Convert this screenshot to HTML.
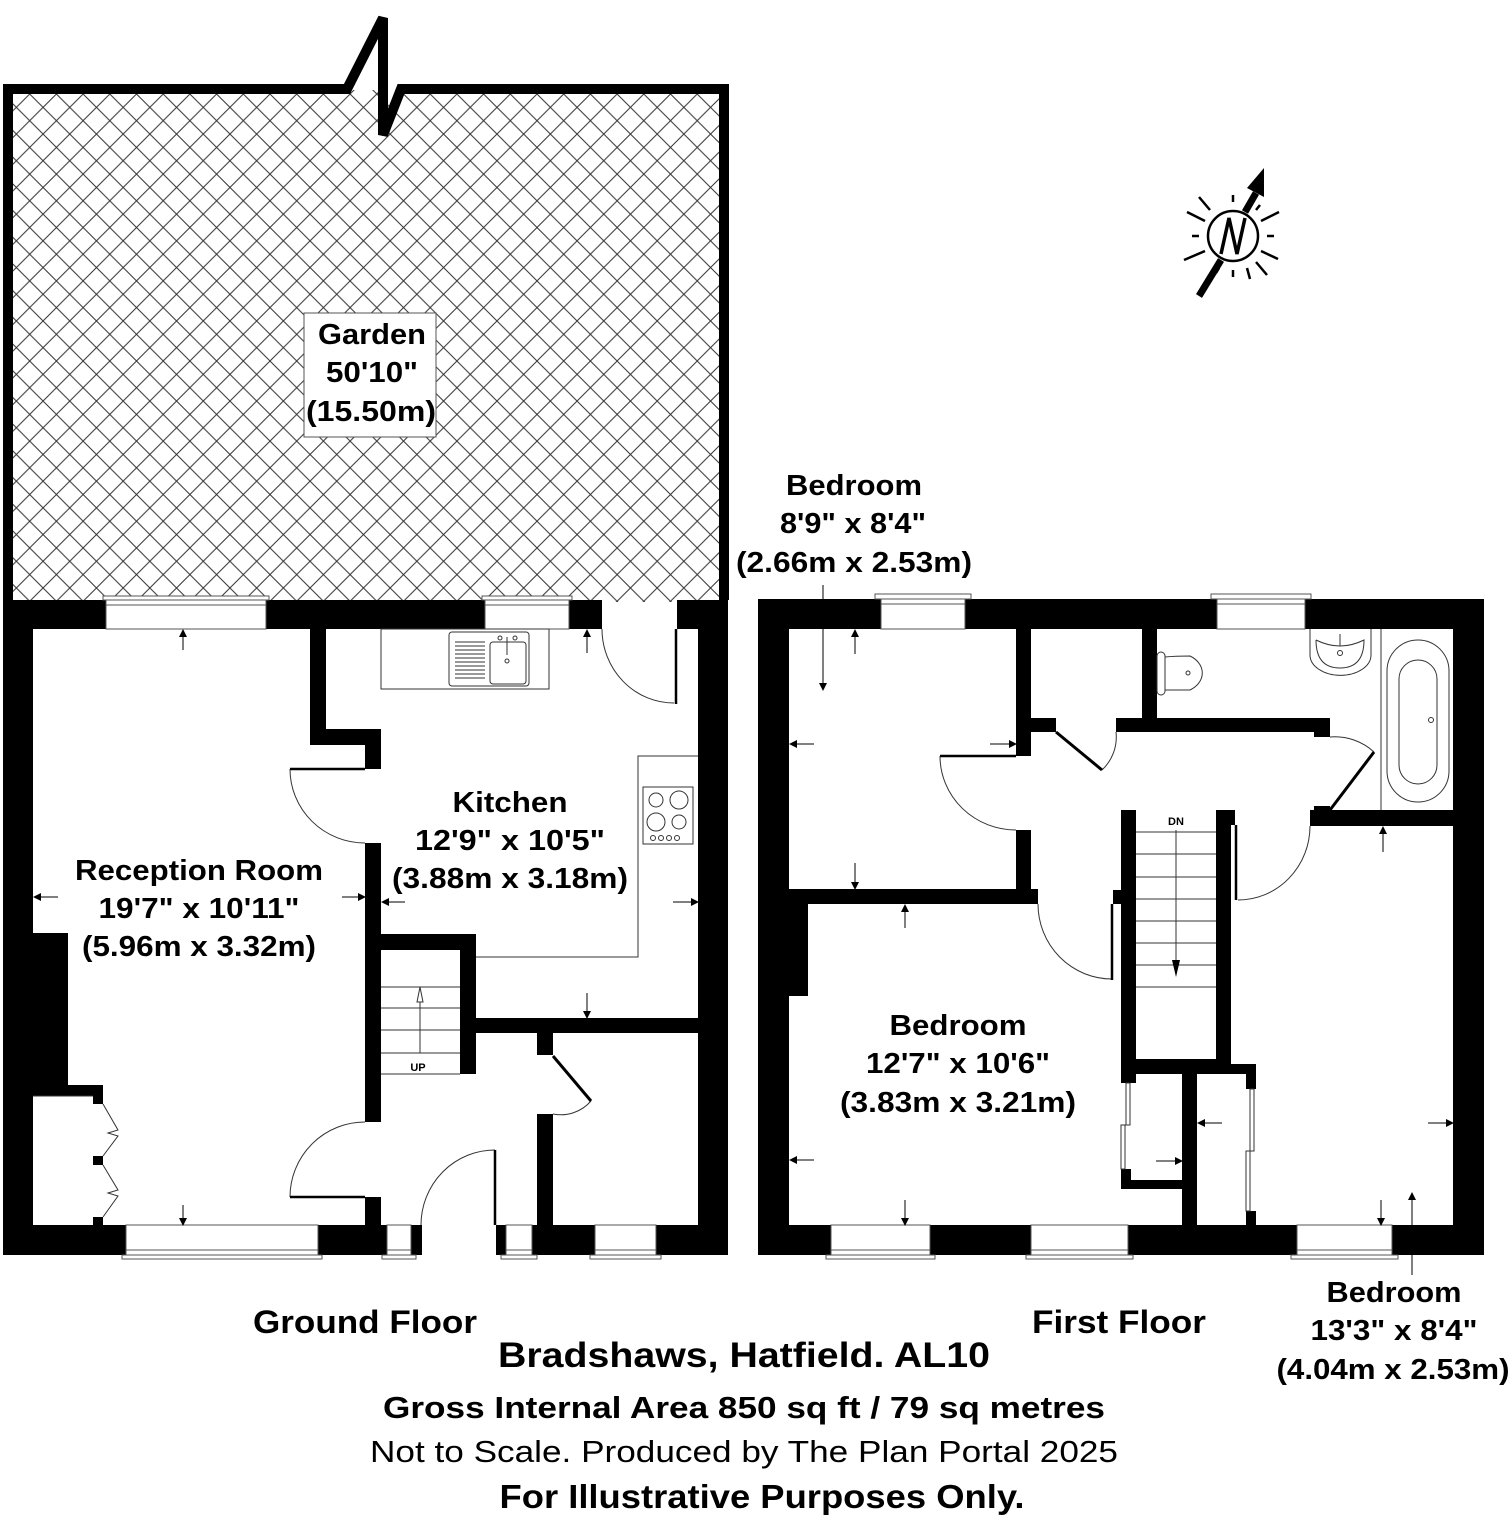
<!DOCTYPE html>
<html><head><meta charset="utf-8">
<style>
html,body{margin:0;padding:0;background:#fff;}
svg{display:block;}
text{font-family:"Liberation Sans",Arial,sans-serif;fill:#000;}
.b{font-weight:bold;}
</style></head>
<body>
<svg width="1512" height="1520" viewBox="0 0 1512 1520" xmlns="http://www.w3.org/2000/svg">
<defs>
<pattern id="hatch" patternUnits="userSpaceOnUse" width="26.7" height="26.7" x="3" y="94">
<path d="M0,0 L26.7,26.7 M26.7,0 L0,26.7" stroke="#333" stroke-width="1"/>
</pattern>
<marker id="ah" markerWidth="8" markerHeight="8" refX="7" refY="4" orient="auto" markerUnits="userSpaceOnUse">
<path d="M0,0 L8,4 L0,8 Z" fill="#000"/>
</marker>
</defs>

<!-- Garden -->
<rect x="8" y="90" width="716" height="512" fill="url(#hatch)"/>
<path d="M8,600 L8,89 L347,89 L383,18 L383,135 L401,89 L724,89 L724,600" fill="none" stroke="#000" stroke-width="10" stroke-linejoin="miter"/>
<rect x="304" y="313" width="132" height="124" fill="#fff" stroke="#555" stroke-width="1"/>
<text class="b" x="372" y="344" font-size="29" text-anchor="middle" textLength="108" lengthAdjust="spacingAndGlyphs">Garden</text>
<text class="b" x="372" y="382" font-size="29" text-anchor="middle" textLength="92" lengthAdjust="spacingAndGlyphs">50'10"</text>
<text class="b" x="371" y="421" font-size="29" text-anchor="middle" textLength="130" lengthAdjust="spacingAndGlyphs">(15.50m)</text>

<!-- Compass -->
<g stroke="#000" stroke-width="2.5" fill="none">
<line x1="1233" y1="202" x2="1233" y2="195"/><line x1="1233" y1="270" x2="1233" y2="277"/>
<line x1="1199" y1="236" x2="1192" y2="236"/><line x1="1267" y1="236" x2="1274" y2="236"/>
<line x1="1210" y1="210" x2="1199" y2="197"/><line x1="1256" y1="262" x2="1267" y2="275"/>
<line x1="1205" y1="221" x2="1187" y2="212"/><line x1="1261" y1="221" x2="1279" y2="212"/>
<line x1="1205" y1="251" x2="1184" y2="260"/><line x1="1261" y1="251" x2="1278" y2="259"/>
<line x1="1219" y1="268" x2="1216" y2="273"/>
<line x1="1247" y1="268" x2="1250" y2="279"/><line x1="1256" y1="210" x2="1260" y2="205"/>
</g>
<line x1="1199" y1="296" x2="1221" y2="260" stroke="#000" stroke-width="7"/>
<line x1="1245" y1="212" x2="1256" y2="193" stroke="#000" stroke-width="7"/>
<path d="M1264,168 L1264,197 L1247,188 Z" fill="#000"/>
<circle cx="1233" cy="236" r="25" fill="#fff" stroke="#000" stroke-width="2.5"/>
<path d="M1221,254 L1229,218 L1237,254 L1245,218" fill="none" stroke="#000" stroke-width="3.5" stroke-linejoin="miter"/>

<!-- ===== GROUND FLOOR ===== -->
<g fill="#000">
<rect x="3" y="600" width="103" height="29"/>
<rect x="266" y="600" width="219" height="29"/>
<rect x="569" y="600" width="33" height="29"/>
<rect x="677" y="600" width="51" height="29"/>
<rect x="3" y="600" width="30" height="655"/>
<rect x="698" y="600" width="30" height="655"/>
<rect x="3" y="1225" width="123" height="30"/>
<rect x="318" y="1225" width="69" height="30"/>
<rect x="411" y="1225" width="11" height="30"/>
<rect x="496" y="1225" width="10" height="30"/>
<rect x="532" y="1225" width="63" height="30"/>
<rect x="656" y="1225" width="72" height="30"/>
<rect x="310" y="629" width="16" height="116"/>
<rect x="310" y="729" width="71" height="16"/>
<rect x="365" y="729" width="16" height="40"/>
<rect x="365" y="843" width="16" height="279"/>
<rect x="365" y="1197" width="16" height="30"/>
<rect x="381" y="934" width="95" height="16"/>
<rect x="460" y="934" width="16" height="140"/>
<rect x="460" y="1018" width="238" height="15"/>
<rect x="537" y="1033" width="16" height="22"/>
<rect x="537" y="1114" width="16" height="112"/>
<rect x="33" y="933" width="35" height="162"/>
<rect x="33" y="1085" width="70" height="11"/>
<rect x="93" y="1096" width="10" height="8"/>
<rect x="93" y="1156" width="10" height="9"/>
<rect x="93" y="1217" width="10" height="9"/>
</g>
<g fill="#fff" stroke="#555" stroke-width="1">
<rect x="106" y="600" width="160" height="29"/><line x1="106" y1="605" x2="266" y2="605"/><rect x="103" y="596" width="166" height="4"/>
<rect x="485" y="600" width="84" height="29"/><line x1="485" y1="605" x2="569" y2="605"/><rect x="482" y="596" width="90" height="4"/>
<rect x="126" y="1225" width="192" height="30"/><line x1="126" y1="1250" x2="318" y2="1250"/><rect x="122" y="1255" width="200" height="4"/>
<rect x="387" y="1225" width="24" height="30"/><line x1="387" y1="1250" x2="411" y2="1250"/><rect x="382" y="1255" width="34" height="4"/>
<rect x="506" y="1225" width="26" height="30"/><line x1="506" y1="1250" x2="532" y2="1250"/><rect x="501" y="1255" width="36" height="4"/>
<rect x="595" y="1225" width="61" height="30"/><line x1="595" y1="1250" x2="656" y2="1250"/><rect x="590" y="1255" width="71" height="4"/>
</g>
<g fill="none" stroke="#333" stroke-width="1">
<rect x="381" y="629" width="168" height="60"/>
<rect x="449" y="632" width="80" height="54" rx="3"/>
<rect x="490" y="642" width="36" height="42" rx="3"/>
<path d="M455,642 h30 M455,646 h30 M455,650 h30 M455,654 h30 M455,658 h30 M455,662 h30 M455,666 h30 M455,670 h30 M455,674 h30 M455,678 h30"/>
<line x1="507" y1="637" x2="507" y2="655"/><circle cx="507" cy="661" r="2"/><circle cx="500" cy="638" r="2"/><circle cx="515" cy="638" r="2"/>
<path d="M698,756 H638 V957 H476"/>
<rect x="643" y="787" width="50" height="57"/>
<circle cx="656" cy="800" r="7"/><circle cx="679" cy="800" r="9"/><circle cx="656" cy="822" r="9"/><circle cx="679" cy="822" r="7"/>
<circle cx="653" cy="838" r="2.5"/><circle cx="661" cy="838" r="2.5"/><circle cx="669" cy="838" r="2.5"/><circle cx="677" cy="838" r="2.5"/>
<path d="M381,987 H460 M381,1008 H460 M381,1030 H460 M381,1053 H460 M381,1074 H460"/>
<line x1="420" y1="1053" x2="420" y2="995"/>
<path d="M417,1002 L420,987 L423,1002 Z" fill="#fff"/>
<path d="M602,629 A72,74 0 0 0 674,703"/>
<path d="M290,769 A75,74 0 0 0 365,843"/>
<path d="M365,1122 A75,75 0 0 0 290,1197"/>
<path d="M495,1150 A74,75 0 0 0 421,1225"/>
<path d="M591,1101 A40,40 0 0 1 553,1114"/>
<path d="M103,1104 L118,1130 L108,1133 L118,1136 L103,1156 M103,1165 L118,1190 L108,1193 L118,1196 L103,1217"/>
<line x1="33" y1="1096" x2="93" y2="1096"/>
</g>
<g stroke="#000" stroke-width="2.5" fill="none">
<line x1="676" y1="629" x2="676" y2="704"/>
<line x1="290" y1="769" x2="365" y2="769"/>
<line x1="290" y1="1197" x2="365" y2="1197"/>
<line x1="495" y1="1150" x2="495" y2="1225"/>
<line x1="553" y1="1056" x2="591" y2="1101" stroke-width="3"/>
</g>
<text class="b" x="418" y="1071" font-size="11" text-anchor="middle">UP</text>

<g stroke="#000" stroke-width="1" marker-end="url(#ah)">
<line x1="183" y1="650" x2="183" y2="630"/>
<line x1="183" y1="1205" x2="183" y2="1225"/>
<line x1="58" y1="897" x2="34" y2="897"/>
<line x1="342" y1="897" x2="365" y2="897"/>
<line x1="405" y1="902" x2="382" y2="902"/>
<line x1="673" y1="902" x2="698" y2="902"/>
<line x1="587" y1="653" x2="587" y2="630"/>
<line x1="587" y1="993" x2="587" y2="1018"/>
</g>

<text class="b" x="199" y="880" font-size="29" text-anchor="middle" textLength="248" lengthAdjust="spacingAndGlyphs">Reception Room</text>
<text class="b" x="199" y="918" font-size="29" text-anchor="middle" textLength="201" lengthAdjust="spacingAndGlyphs">19'7" x 10'11"</text>
<text class="b" x="199" y="956" font-size="29" text-anchor="middle" textLength="234" lengthAdjust="spacingAndGlyphs">(5.96m x 3.32m)</text>
<text class="b" x="510" y="812" font-size="29" text-anchor="middle" textLength="115" lengthAdjust="spacingAndGlyphs">Kitchen</text>
<text class="b" x="510" y="850" font-size="29" text-anchor="middle" textLength="190" lengthAdjust="spacingAndGlyphs">12'9" x 10'5"</text>
<text class="b" x="510" y="888" font-size="29" text-anchor="middle" textLength="236" lengthAdjust="spacingAndGlyphs">(3.88m x 3.18m)</text>

<!-- ===== FIRST FLOOR ===== -->
<g fill="#000">
<rect x="758" y="599" width="123" height="30"/>
<rect x="965" y="599" width="252" height="30"/>
<rect x="1305" y="599" width="179" height="30"/>
<rect x="758" y="599" width="31" height="656"/>
<rect x="1453" y="599" width="31" height="656"/>
<rect x="758" y="1225" width="73" height="30"/>
<rect x="930" y="1225" width="101" height="30"/>
<rect x="1128" y="1225" width="169" height="30"/>
<rect x="1392" y="1225" width="92" height="30"/>
<rect x="1016" y="629" width="15" height="127"/>
<rect x="1016" y="830" width="15" height="74"/>
<rect x="789" y="889" width="249" height="15"/>
<rect x="789" y="904" width="19" height="92"/>
<rect x="1142" y="629" width="15" height="90"/>
<rect x="1016" y="718" width="40" height="14"/>
<rect x="1116" y="718" width="214" height="14"/>
<rect x="1314" y="718" width="16" height="19"/>
<rect x="1310" y="810" width="143" height="16"/>
<rect x="1314" y="806" width="16" height="8"/>
<rect x="1121" y="810" width="15" height="273"/>
<rect x="1216" y="810" width="19" height="15"/>
<rect x="1216" y="810" width="15" height="264"/>
<rect x="1113" y="890" width="8" height="14"/>
<rect x="1121" y="1059" width="110" height="15"/>
<rect x="1121" y="1064" width="135" height="10"/>
<rect x="1246" y="1064" width="10" height="25"/>
<rect x="1121" y="1169" width="10" height="12"/>
<rect x="1121" y="1180" width="61" height="9"/>
<rect x="1182" y="1074" width="15" height="152"/>
<rect x="1246" y="1211" width="10" height="15"/>
</g>
<g fill="#fff" stroke="#555" stroke-width="1">
<rect x="881" y="599" width="84" height="30"/><line x1="881" y1="604" x2="965" y2="604"/><rect x="875" y="594" width="96" height="5"/>
<rect x="1217" y="599" width="88" height="30"/><line x1="1217" y1="604" x2="1305" y2="604"/><rect x="1211" y="594" width="100" height="5"/>
<rect x="831" y="1225" width="99" height="30"/><line x1="831" y1="1250" x2="930" y2="1250"/><rect x="826" y="1255" width="109" height="4"/>
<rect x="1031" y="1225" width="97" height="30"/><line x1="1031" y1="1250" x2="1128" y2="1250"/><rect x="1026" y="1255" width="107" height="4"/>
<rect x="1297" y="1225" width="95" height="30"/><line x1="1297" y1="1250" x2="1392" y2="1250"/><rect x="1291" y="1255" width="107" height="4"/>
</g>
<g fill="none" stroke="#333" stroke-width="1">
<line x1="1381" y1="629" x2="1381" y2="810"/>
<rect x="1387" y="640" width="62" height="162" rx="31"/>
<rect x="1399" y="660" width="38" height="124" rx="19"/>
<circle cx="1431" cy="720" r="2.5"/>
<path d="M1310,629 V655 A30,20 0 0 0 1371,655 V629"/>
<path d="M1316,640 Q1340,652 1364,640 Q1364,668 1340,668 Q1316,668 1316,640"/>
<circle cx="1340" cy="653" r="2.5"/><line x1="1340" y1="634" x2="1340" y2="646"/>
<rect x="1157" y="652" width="8" height="43" rx="4"/>
<path d="M1165,657 Q1175,656 1190,656 A26,20 0 0 1 1190,690 Q1175,690 1165,690"/>
<circle cx="1188" cy="673" r="2"/>
<path d="M1136,832 H1216 M1136,854 H1216 M1136,877 H1216 M1136,899 H1216 M1136,921 H1216 M1136,943 H1216 M1136,965 H1216 M1136,987 H1216"/>
<line x1="1176" y1="830" x2="1176" y2="975"/>
<path d="M940,756 A76,74 0 0 0 1016,830"/>
<path d="M1038,904 A74,75 0 0 0 1112,979"/>
<path d="M1102,770 A45,45 0 0 0 1116,732"/>
<path d="M1330,737 A58,58 0 0 1 1374,752"/>
<path d="M1310,826 A72,74 0 0 1 1238,900"/>
<rect x="1126" y="1083" width="4" height="42"/><rect x="1121" y="1125" width="4" height="44"/>
<rect x="1250" y="1089" width="4" height="62"/><rect x="1246" y="1151" width="4" height="60"/>
</g>
<g stroke="#000" stroke-width="2.5" fill="none">
<line x1="940" y1="756" x2="1016" y2="756"/>
<line x1="1112" y1="904" x2="1112" y2="980"/>
<line x1="1056" y1="732" x2="1102" y2="770" stroke-width="3"/>
<line x1="1330" y1="810" x2="1374" y2="752" stroke-width="3"/>
<line x1="1236" y1="825" x2="1236" y2="900"/>
</g>
<path d="M1172,960 L1176,977 L1180,960 Z" fill="#000"/>
<text class="b" x="1176" y="825" font-size="11" text-anchor="middle">DN</text>

<g stroke="#000" stroke-width="1" marker-end="url(#ah)">
<line x1="855" y1="654" x2="855" y2="630"/>
<line x1="855" y1="863" x2="855" y2="889"/>
<line x1="814" y1="744" x2="790" y2="744"/>
<line x1="990" y1="744" x2="1016" y2="744"/>
<line x1="823" y1="585" x2="823" y2="690"/>
<line x1="905" y1="928" x2="905" y2="905"/>
<line x1="905" y1="1200" x2="905" y2="1225"/>
<line x1="814" y1="1160" x2="790" y2="1160"/>
<line x1="1156" y1="1161" x2="1182" y2="1161"/>
<line x1="1383" y1="852" x2="1383" y2="827"/>
<line x1="1381" y1="1200" x2="1381" y2="1225"/>
<line x1="1222" y1="1123" x2="1198" y2="1123"/>
<line x1="1428" y1="1123" x2="1453" y2="1123"/>
<line x1="1412" y1="1275" x2="1412" y2="1193"/>
</g>

<text class="b" x="854" y="495" font-size="29" text-anchor="middle" textLength="136" lengthAdjust="spacingAndGlyphs">Bedroom</text>
<text class="b" x="853" y="533" font-size="29" text-anchor="middle" textLength="146" lengthAdjust="spacingAndGlyphs">8'9" x 8'4"</text>
<text class="b" x="854" y="572" font-size="29" text-anchor="middle" textLength="236" lengthAdjust="spacingAndGlyphs">(2.66m x 2.53m)</text>
<text class="b" x="958" y="1035" font-size="29" text-anchor="middle" textLength="137" lengthAdjust="spacingAndGlyphs">Bedroom</text>
<text class="b" x="958" y="1073" font-size="29" text-anchor="middle" textLength="184" lengthAdjust="spacingAndGlyphs">12'7" x 10'6"</text>
<text class="b" x="958" y="1112" font-size="29" text-anchor="middle" textLength="236" lengthAdjust="spacingAndGlyphs">(3.83m x 3.21m)</text>
<text class="b" x="1394" y="1302" font-size="29" text-anchor="middle" textLength="135" lengthAdjust="spacingAndGlyphs">Bedroom</text>
<text class="b" x="1394" y="1340" font-size="29" text-anchor="middle" textLength="167" lengthAdjust="spacingAndGlyphs">13'3" x 8'4"</text>
<text class="b" x="1393" y="1379" font-size="29" text-anchor="middle" textLength="233" lengthAdjust="spacingAndGlyphs">(4.04m x 2.53m)</text>

<text class="b" x="365" y="1333" font-size="32" text-anchor="middle" textLength="224" lengthAdjust="spacingAndGlyphs">Ground Floor</text>
<text class="b" x="1119" y="1333" font-size="32" text-anchor="middle" textLength="174" lengthAdjust="spacingAndGlyphs">First Floor</text>
<text class="b" x="744" y="1367" font-size="35" text-anchor="middle" textLength="492" lengthAdjust="spacingAndGlyphs">Bradshaws, Hatfield. AL10</text>
<text class="b" x="744" y="1418" font-size="31" text-anchor="middle" textLength="722" lengthAdjust="spacingAndGlyphs">Gross Internal Area 850 sq ft / 79 sq metres</text>
<text x="744" y="1462" font-size="31" text-anchor="middle" textLength="748" lengthAdjust="spacingAndGlyphs">Not to Scale. Produced by The Plan Portal 2025</text>
<text class="b" x="762" y="1508" font-size="33" text-anchor="middle" textLength="525" lengthAdjust="spacingAndGlyphs">For Illustrative Purposes Only.</text>
</svg>
</body></html>
